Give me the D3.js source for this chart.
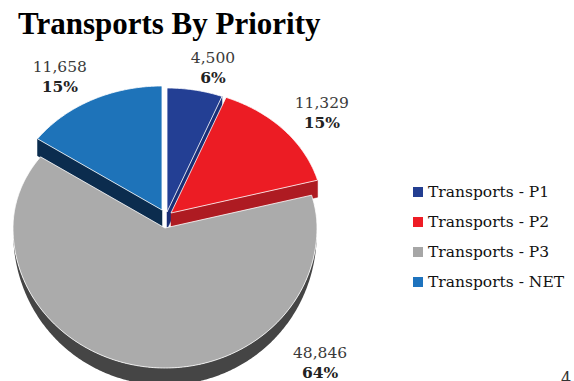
<!DOCTYPE html>
<html><head><meta charset="utf-8">
<script src="https://cdn.jsdelivr.net/npm/d3@7/dist/d3.min.js"></script>
<style>html,body{margin:0;padding:0;background:#fff;overflow:hidden}</style>
</head><body>
<svg id="chart" width="574" height="381"></svg>
<script>
// ---- data ----
const categories = ["Transports - P1", "Transports - P2", "Transports - P3", "Transports - NET"];
const values = [4500, 11329, 48846, 11658];
const titleText = "Transports By Priority";
const pageNumber = "4";

// ---- styles ----
const topColors = ["#233f94", "#ec1c24", "#ababab", "#1e73b9"];
const sideColors = ["#1a2f77", "#ae1b22", "#454545", "#0b2c4e"];
const legendColors = ["#233e91", "#ee1c25", "#a6a6a6", "#1e73be"];

const svg = d3.select("#chart");
const total = d3.sum(values);
const fmtVal = d3.format(",");
const fmtPct = d3.format(".0%");

// ---- layout ----
const base = {cx: 165, cy: 212, rx: 152, ryTop: 124, ryBot: 140, depth: 17};
const explode = [[2, 0], [6, 1], [0, 16], [-3, -2]];
const labelNudge = [[18, -27], [38, -22], [181, -8], [-32, -28]];

const arcs = d3.pie().sort(null).startAngle(0).endAngle(2 * Math.PI)(values);

function geom(i) {
  return {cx: base.cx + explode[i][0], cy: base.cy + explode[i][1],
          rx: base.rx, ryTop: base.ryTop, ryBot: base.ryBot, depth: base.depth};
}
function proj(c, a, r, dz) {
  const s = Math.sin(a), co = Math.cos(a);
  const ry = co > 0 ? c.ryTop : c.ryBot;
  return [c.cx + c.rx * r * s, c.cy - ry * r * co + (dz || 0)];
}
function arcPts(c, a0, a1, wall) {
  const n = Math.max(2, Math.ceil(Math.abs(a1 - a0) / 0.01));
  return d3.range(n + 1).map(k => {
    const a = a0 + (a1 - a0) * k / n;
    const dz = wall ? c.depth * Math.pow(Math.max(0, -Math.cos(a)), 0.6) : 0;
    return proj(c, a, 1, dz);
  });
}
const closed = d3.line().curve(d3.curveLinearClosed);

const pieG = svg.append("g");
const sideLayer = pieG.append("g");
const topLayer = pieG.append("g");
const frontLayer = pieG.append("g");

const frontIndex = values.indexOf(d3.max(values));

arcs.forEach((d, i) => {
  const c = geom(i);
  const layerSide = i === frontIndex ? frontLayer : sideLayer;
  const layerTop = i === frontIndex ? frontLayer : topLayer;
  const ctr = [c.cx, c.cy];
  const ctrD = [c.cx, c.cy + c.depth];
  // radial faces
  [[d.startAngle, d.startAngle - Math.PI / 2], [d.endAngle, d.endAngle + Math.PI / 2]].forEach(([a, nrm]) => {
    if (Math.cos(nrm) < -0.01) {
      const p = proj(c, a, 1), pd = proj(c, a, 1, c.depth);
      layerSide.append("path").attr("d", closed([ctr, p, pd, ctrD]))
        .attr("fill", sideColors[i]).attr("stroke", sideColors[i]).attr("stroke-width", 0.5);
    }
  });
  // outer wall (front half only)
  const b0 = Math.max(d.startAngle, Math.PI / 2), b1 = Math.min(d.endAngle, 3 * Math.PI / 2);
  if (b1 > b0) {
    const pts = arcPts(c, b0, b1, false).concat(arcPts(c, b1, b0, true));
    layerSide.append("path").attr("d", closed(pts)).attr("fill", sideColors[i]);
  }
  // top face
  layerTop.append("path")
    .attr("d", closed([ctr].concat(arcPts(c, d.startAngle, d.endAngle, false))))
    .attr("fill", topColors[i]).attr("stroke", "#fff").attr("stroke-width", 0.8);
});

// ---- data labels ----
const labelG = svg.append("g");
arcs.forEach((d, i) => {
  const c = geom(i);
  const mid = (d.startAngle + d.endAngle) / 2;
  const p = proj(c, mid, 1);
  const x = p[0] + labelNudge[i][0], y = p[1] + labelNudge[i][1];
  const t = labelG.append("text").attr("text-anchor", "middle")
    .attr("font-family", "'DejaVu Serif', serif").attr("font-size", 15.5);
  t.append("tspan").attr("x", x).attr("y", y).attr("fill", "#3a3a3a").text(fmtVal(d.value));
  t.append("tspan").attr("x", x).attr("y", y + 20).attr("fill", "#222").attr("font-weight", "bold")
    .text(fmtPct(d.value / total));
});

// ---- title ----
svg.append("text").attr("x", 18).attr("y", 34)
  .attr("font-family", "'Liberation Serif', serif").attr("font-weight", "bold").attr("font-size", 31)
  .attr("fill", "#000").text(titleText);

// ---- legend ----
const ly = d3.scalePoint().domain(categories).range([197, 287]);
const leg = svg.append("g");
categories.forEach((cat, i) => {
  leg.append("rect").attr("x", 413).attr("y", ly(cat) - 10).attr("width", 10).attr("height", 10)
    .attr("fill", legendColors[i]);
  leg.append("text").attr("x", 428).attr("y", ly(cat))
    .attr("font-family", "'DejaVu Serif', serif").attr("font-size", 15.5).attr("fill", "#111")
    .text(cat);
});

// ---- cropped page number ----
svg.append("text").attr("x", 561).attr("y", 384)
  .attr("font-family", "'DejaVu Serif', serif").attr("font-size", 16).attr("fill", "#333").text(pageNumber);
</script>
</body></html>
